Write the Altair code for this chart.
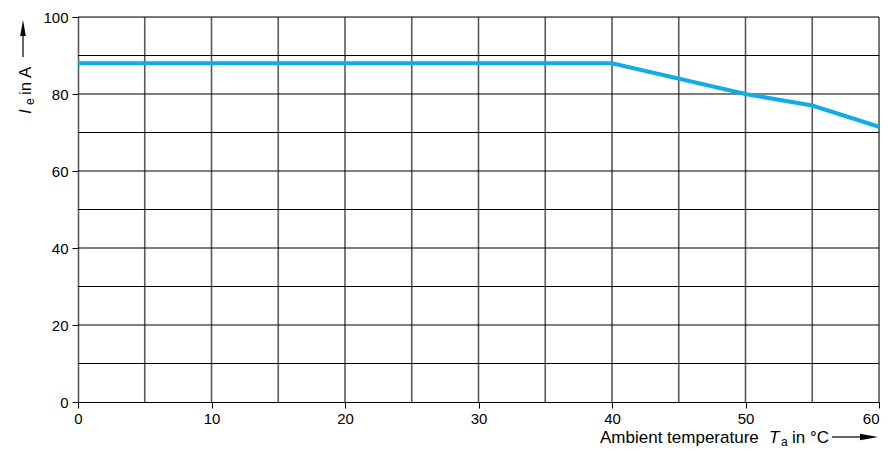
import altair as alt
import pandas as pd

# Data
temp = [0, 40, 50, 55, 60]
current = [88, 88, 80, 77, 71.5]
x_ticks = [0, 10, 20, 30, 40, 50, 60]
y_ticks = [0, 20, 40, 60, 80, 100]
x_grid = [5, 10, 15, 20, 25, 30, 35, 40, 45, 50, 55, 60]
y_grid = [10, 20, 30, 40, 50, 60, 70, 80, 90, 100]

W, H = 801, 385
FONT = "Liberation Sans"
TS = 17

xs = alt.Scale(domain=[0, 60], nice=False, zero=False)
ys = alt.Scale(domain=[0, 100], nice=False)

x_axis = alt.Axis(
    values=x_ticks, title=None, grid=False, domainColor="#000000",
    domainWidth=1.2, tickColor="#000000", tickSize=6, labelPadding=3,
    labelFontSize=15, labelFont=FONT, labelColor="#000000", labelFlush=False,
    labelAlign={"condition": {"test": "datum.value == 60", "value": "right"},
                "value": "center"},
)
y_axis = alt.Axis(
    values=y_ticks, title=None, grid=False, domainColor="#5a5a5a",
    domainWidth=1.6, tickColor="#000000", tickSize=6, labelPadding=4,
    labelFontSize=15, labelFont=FONT, labelColor="#000000",
)

line_df = pd.DataFrame({"T": temp, "I": current})
one = pd.DataFrame({"a": [0]})

vgrid = alt.Chart(pd.DataFrame({"T": x_grid})).mark_rule(
    color="#5a5a5a", strokeWidth=1.6
).encode(x=alt.X("T:Q", scale=xs, axis=x_axis), y=alt.value(0), y2=alt.value(H))

hgrid = alt.Chart(pd.DataFrame({"I": y_grid})).mark_rule(
    color="#000000", strokeWidth=1.1
).encode(y=alt.Y("I:Q", scale=ys, axis=y_axis), x=alt.value(0), x2=alt.value(W))

line = alt.Chart(line_df).mark_line(color="#12ABE6", strokeWidth=4).encode(
    x=alt.X("T:Q", scale=xs, axis=x_axis),
    y=alt.Y("I:Q", scale=ys, axis=y_axis),
)


def txt(s, x, y, size=TS, angle=0, style="normal"):
    props = dict(align="left", baseline="alphabetic", font=FONT, fontSize=size,
                 color="#000000", fontStyle=style)
    if angle:
        props["angle"] = angle
    return alt.Chart(one).mark_text(**props).encode(
        x=alt.value(x), y=alt.value(y), text=alt.value(s)
    )


# Y title (rotated)
y_title = [
    txt("I", -47, 97, TS, 270, "italic"),
    txt("e", -44, 88, 12, 270),
    txt("in A", -47, 78, TS, 270),
]
y_arrow_line = alt.Chart(one).mark_rule(color="#000000", strokeWidth=1.2).encode(
    x=alt.value(-55), y=alt.value(40), y2=alt.value(14)
)
y_arrow_head = alt.Chart(one).mark_point(
    shape="M -0.35 1 L 0 -1 L 0.35 1 Z", filled=True, size=256, color="#000000", opacity=1
).encode(x=alt.value(-55), y=alt.value(11))

# X title
TY = 426
x_title = [
    txt("Ambient temperature", 522, TY, TS),
    txt("T", 691, TY, TS, 0, "italic"),
    txt("a", 703, TY + 3, 12),
    txt("in °C", 714, TY, TS),
]
x_arrow_line = alt.Chart(one).mark_rule(color="#000000", strokeWidth=1.2).encode(
    x=alt.value(754), x2=alt.value(786), y=alt.value(TY - 6)
)
x_arrow_head = alt.Chart(one).mark_point(
    shape="M -1 -0.35 L 1 0 L -1 0.35 Z", filled=True, size=324, color="#000000", opacity=1
).encode(x=alt.value(791), y=alt.value(TY - 6))

chart = alt.layer(
    vgrid, hgrid, line, *y_title, y_arrow_line, y_arrow_head,
    *x_title, x_arrow_line, x_arrow_head
).properties(
    width=W, height=H,
    autosize=alt.AutoSizeParams(type="none"),
    padding={"left": 70, "top": 9, "right": 1, "bottom": 46},
).configure_view(stroke=None).configure(background="#ffffff")

chart.save("out.html", embed_options={"renderer": "svg", "actions": False})
